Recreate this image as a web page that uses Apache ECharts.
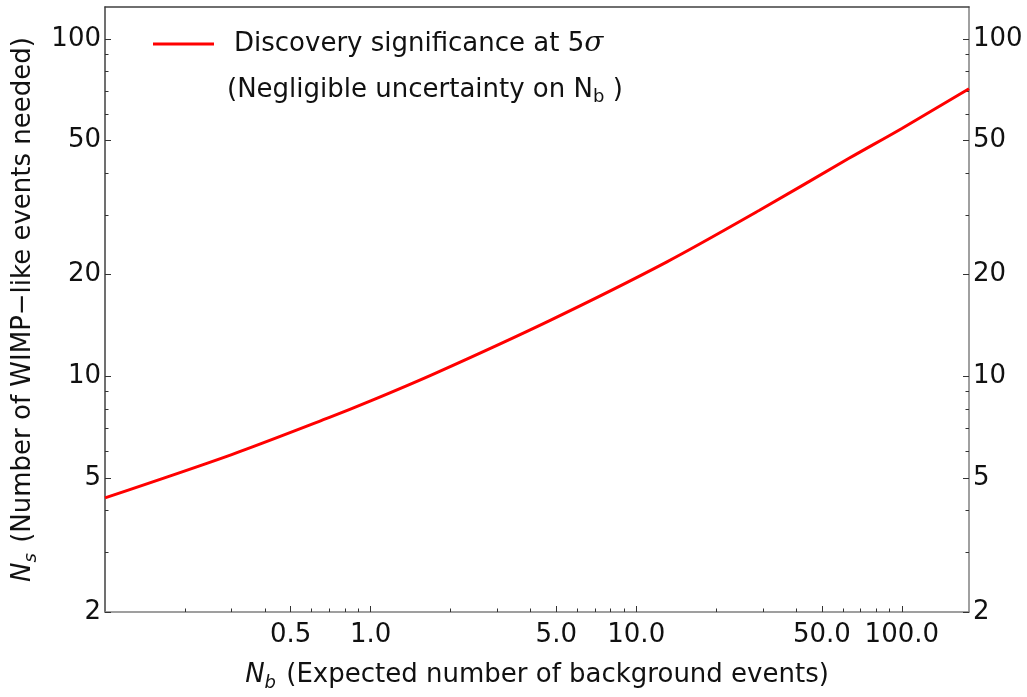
<!DOCTYPE html>
<html>
<head>
<meta charset="utf-8">
<script src="https://cdn.jsdelivr.net/npm/echarts@6/dist/echarts.min.js"></script>
<style>
  html, body { margin: 0; padding: 0; background: #fff; }
  #chart { width: 1027px; height: 697px; }
</style>
</head>
<body>
<div id="chart"></div>
<script>
// values (log-log plot)
const nbValues = [0.1, 0.3, 0.7, 1.0, 1.75, 4.7, 13, 29, 63, 100, 179];
const nsValues = [4.36, 5.86, 7.55, 8.45, 10.2, 14.6, 21.8, 31.0, 44.2, 54.3, 71.2];

const xRange = [0.1, 179];
const yRange = [2, 124.4];

const xMajor = [0.5, 1, 5, 10, 50, 100];
const xMajorLabels = ["0.5", "1.0", "5.0", "10.0", "50.0", "100.0"];
const xMinor = [0.2, 0.3, 0.4, 0.6, 0.7, 0.8, 0.9, 2, 3, 4, 6, 7, 8, 9, 20, 30, 40, 60, 70, 80, 90];

const yMajor = [2, 5, 10, 20, 50, 100];
const yMajorLabels = ["2", "5", "10", "20", "50", "100"];
const yMinor = [3, 4, 6, 7, 8, 9, 30, 40, 60, 70, 80, 90];

const seriesName = "Discovery significance at 5σ";

const lg = (v) => Math.log10(v);
const font = "DejaVu Sans, sans-serif";

function labelFor(values, labels) {
  return (val) => {
    const i = values.findIndex((v) => Math.abs(lg(v) - val) < 1e-6);
    return i >= 0 ? labels[i] : "";
  };
}

const chart = echarts.init(document.getElementById("chart"));

const axisText = { color: "#111", fontSize: 26, fontFamily: font };
const nameRich = {
  t: { fontSize: 26, fontFamily: font, color: "#111", lineHeight: 34 },
  i: { fontSize: 26, fontFamily: font, fontStyle: "italic", color: "#111", lineHeight: 34 },
  sub: { fontSize: 18, fontFamily: font, fontStyle: "italic", color: "#111", verticalAlign: "bottom", lineHeight: 18, padding: [0, 2, 0, 0] },
};

function xAxisBase(extra) {
  return Object.assign({
    type: "value",
    min: lg(xRange[0]),
    max: lg(xRange[1]),
    splitLine: { show: false },
    axisLine: { show: false, onZero: false },
    axisTick: { show: false },
    axisLabel: { show: false },
  }, extra);
}
function yAxisBase(extra) {
  return Object.assign({
    type: "value",
    min: lg(yRange[0]),
    max: lg(yRange[1]),
    splitLine: { show: false },
    axisLine: { show: false, onZero: false },
    axisTick: { show: false },
    axisLabel: { show: false },
  }, extra);
}

chart.setOption({
  animation: false,
  backgroundColor: "#ffffff",
  grid: { left: 105, right: 58, top: 7, bottom: 85, containLabel: false },
  legend: {
    left: 148,
    top: 25,
    icon: "rect",
    itemWidth: 61,
    itemHeight: 3,
    selectedMode: false,
    data: [seriesName],
    formatter: () => "{t|Discovery significance at 5}{s|σ}",
    textStyle: {
      padding: [0, 0, 0, 15],
      rich: {
        t: { fontSize: 26, fontFamily: font, color: "#111" },
        s: { fontSize: 28, fontFamily: "DejaVu Serif, serif", fontStyle: "italic", color: "#111" },
      },
    },
  },
  graphic: [
    {
      type: "text",
      left: 227,
      top: 77,
      style: {
        text: "{t|(Negligible uncertainty on N}{sub|b}{t| )}",
        rich: {
          t: { fontSize: 26, fontFamily: font, fill: "#111", lineHeight: 32 },
          sub: { fontSize: 18, fontFamily: font, fill: "#111", verticalAlign: "bottom", lineHeight: 20 },
        },
      },
    },
  ],
  xAxis: [
    xAxisBase({
      position: "bottom",
      axisLine: { show: true, onZero: false, lineStyle: { color: "#808080", width: 1.5 } },
      axisTick: { show: true, inside: true, length: 6, customValues: xMajor.map(lg), lineStyle: { color: "#333", width: 1 } },
      axisLabel: { show: true, margin: 10, customValues: xMajor.map(lg), formatter: labelFor(xMajor, xMajorLabels), ...axisText },
      name: "{i|N}{sub|b}{t| (Expected number of background events)}",
      nameLocation: "middle",
      nameGap: 46,
      nameTextStyle: { rich: nameRich },
    }),
    xAxisBase({
      position: "bottom",
      axisTick: { show: true, inside: true, length: 3.5, customValues: xMinor.map(lg), lineStyle: { color: "#333", width: 1 } },
    }),
    xAxisBase({
      position: "top",
      axisLine: { show: true, onZero: false, lineStyle: { color: "#404040", width: 1.5 } },
    }),
  ],
  yAxis: [
    yAxisBase({
      position: "left",
      axisLine: { show: true, onZero: false, lineStyle: { color: "#404040", width: 1.5 } },
      axisTick: { show: true, inside: true, length: 6, customValues: yMajor.map(lg), lineStyle: { color: "#333", width: 1 } },
      axisLabel: { show: true, margin: 4, customValues: yMajor.map(lg), formatter: labelFor(yMajor, yMajorLabels), ...axisText },
      name: "{i|N}{sub|s}{t| (Number of WIMP−like events needed)}",
      nameLocation: "middle",
      nameRotate: 90,
      nameGap: 58,
      nameTextStyle: { rich: nameRich },
    }),
    yAxisBase({
      position: "left",
      axisTick: { show: true, inside: true, length: 3.5, customValues: yMinor.map(lg), lineStyle: { color: "#333", width: 1 } },
    }),
    yAxisBase({
      position: "right",
      axisLine: { show: true, onZero: false, lineStyle: { color: "#808080", width: 1.5 } },
      axisTick: { show: true, inside: true, length: 6, customValues: yMajor.map(lg), lineStyle: { color: "#333", width: 1 } },
      axisLabel: { show: true, margin: 4, customValues: yMajor.map(lg), formatter: labelFor(yMajor, yMajorLabels), ...axisText },
    }),
    yAxisBase({
      position: "right",
      axisTick: { show: true, inside: true, length: 3.5, customValues: yMinor.map(lg), lineStyle: { color: "#333", width: 1 } },
    }),
  ],
  series: [
    {
      name: seriesName,
      type: "line",
      xAxisIndex: 0,
      yAxisIndex: 0,
      smooth: 0.3,
      symbol: "none",
      lineStyle: { color: "#ff0000", width: 3 },
      itemStyle: { color: "#ff0000" },
      data: nbValues.map((x, i) => [lg(x), lg(nsValues[i])]),
    },
  ],
});
</script>
</body>
</html>
